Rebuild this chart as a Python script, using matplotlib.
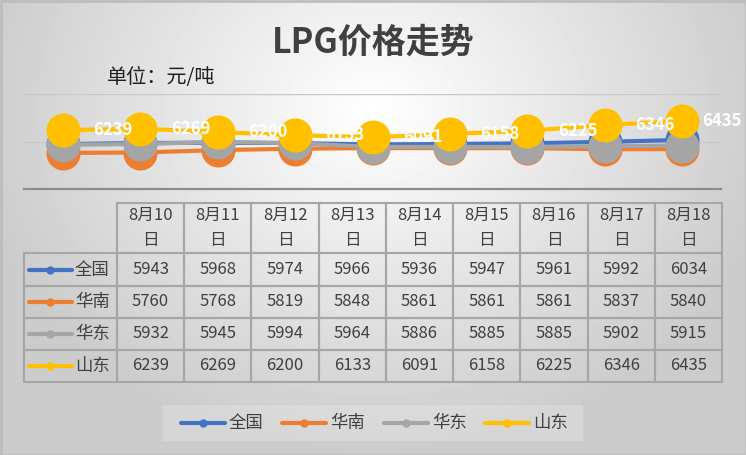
import numpy as np
import matplotlib.pyplot as plt
from matplotlib.patches import Rectangle

plt.rcParams['font.family'] = ['Noto Sans CJK SC', 'DejaVu Sans']

# data
dates = ['8月10', '8月11', '8月12', '8月13', '8月14', '8月15', '8月16', '8月17', '8月18']
names = ['全国', '华南', '华东', '山东']
quanguo = [5943, 5968, 5974, 5966, 5936, 5947, 5961, 5992, 6034]
huanan = [5760, 5768, 5819, 5848, 5861, 5861, 5861, 5837, 5840]
huadong = [5932, 5945, 5994, 5964, 5886, 5885, 5885, 5902, 5915]
shandong = [6239, 6269, 6200, 6133, 6091, 6158, 6225, 6346, 6435]
series = [quanguo, huanan, huadong, shandong]
colors = ['#4472C4', '#ED7D31', '#A5A5A5', '#FFC000']
text_col = '#404040'

W, H = 746, 455
fig = plt.figure(figsize=(W / 100, H / 100), dpi=100)

# background with radial gradient
bg = fig.add_axes([0, 0, 1, 1])
bg.set_xlim(0, W)
bg.set_ylim(H, 0)
bg.axis('off')
yy, xx = np.mgrid[0:H, 0:W]
r = np.sqrt(((xx - 373) / 400.0) ** 2 + ((yy - 110) / 340.0) ** 2)
grad = 1 - 0.2 * np.clip(r, 0, 1)
bg.imshow(grad, extent=(0, W, H, 0), cmap='gray', vmin=0, vmax=1, aspect='auto', zorder=0)
bg.add_patch(Rectangle((0.5, 0.5), W - 1, H - 1, fill=False, ec='#bdbdbd', lw=2, zorder=1))

# title
bg.text(373, 42, 'LPG价格走势', ha='center', va='center', fontsize=24.5,
        fontweight='bold', color=text_col)
bg.text(107, 78, '单位：元/吨', ha='left', va='center', fontsize=14.5, color='#202020')

# line chart
ax = fig.add_axes([24 / W, 1 - 189 / H, 697 / W, 95 / H])
ax.patch.set_alpha(0)
x = np.arange(len(dates))
for i, (vals, c) in enumerate(zip(series, colors)):
    ax.plot(x, vals, color=c, lw=3, marker='o', ms=24.5, mew=0, zorder=2 + i)
for i, v in enumerate(shandong):
    off = 14 if i == len(shandong) - 1 else 22
    ax.annotate(str(v), (x[i], v), xytext=(off, 0), textcoords='offset points',
                ha='left', va='center', color='white', fontsize=12,
                fontweight='bold', zorder=10, annotation_clip=False)
ax.set_xlim(-0.5, len(dates) - 0.5)
ax.set_ylim(5000, 7000)
ax.set_yticks([5000, 6000, 7000])
ax.set_yticklabels([])
ax.set_xticks([])
ax.tick_params(length=0)
ax.grid(axis='y', color='#c8c8c8', lw=1)
for s in ['top', 'left', 'right']:
    ax.spines[s].set_visible(False)
ax.spines['bottom'].set_color('#8c8c8c')
ax.spines['bottom'].set_linewidth(1.6)

# data table
edge = '#a6a6a6'
col0, col1, colw = 24, 117, (722 - 117) / 9
head_top, head_bot = 203, 253
row_edges = [253, 286, 318, 350, 382]
for j, d in enumerate(dates):
    cx = col1 + j * colw
    bg.add_patch(Rectangle((cx, head_top), colw, head_bot - head_top, fill=False, ec=edge, lw=1.5, zorder=2))
    bg.text(cx + colw / 2, 215, d, ha='center', va='center', fontsize=12, color=text_col, zorder=3)
    bg.text(cx + colw / 2, 240, '日', ha='center', va='center', fontsize=12, color=text_col, zorder=3)
for i, (nm, vals, c) in enumerate(zip(names, series, colors)):
    y0, y1 = row_edges[i], row_edges[i + 1]
    cy = (y0 + y1) / 2
    bg.add_patch(Rectangle((col0, y0), col1 - col0, y1 - y0, fill=False, ec=edge, lw=1.5, zorder=2))
    bg.plot([29, 72], [cy, cy], color=c, lw=3, solid_capstyle='round', zorder=3)
    bg.plot([50], [cy], 'o', color=c, ms=6, mew=0, zorder=3)
    bg.text(75, cy, nm, ha='left', va='center', fontsize=12.5, color=text_col, zorder=3)
    for j, v in enumerate(vals):
        cx = col1 + j * colw
        bg.add_patch(Rectangle((cx, y0), colw, y1 - y0, fill=False, ec=edge, lw=1.5, zorder=2))
        bg.text(cx + colw / 2, cy, str(v), ha='center', va='center', fontsize=12, color=text_col, zorder=3)

# legend
bg.add_patch(Rectangle((163, 405), 420, 36, fc='white', alpha=0.2, ec='none', zorder=2))
leg_x = [181, 282, 384, 485]
for lx, nm, c in zip(leg_x, names, colors):
    bg.plot([lx, lx + 44], [423, 423], color=c, lw=3, solid_capstyle='round', zorder=3)
    bg.plot([lx + 22], [423], 'o', color=c, ms=6, mew=0, zorder=3)
    bg.text(lx + 48, 423, nm, ha='left', va='center', fontsize=12.5, color=text_col, zorder=3)

fig.savefig('out.png', dpi=100)
